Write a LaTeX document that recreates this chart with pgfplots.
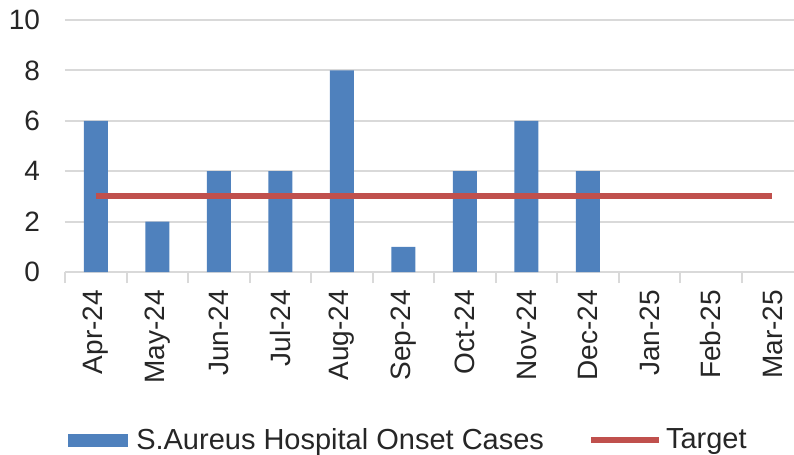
\documentclass[border=0pt]{standalone}
\usepackage{pgfplots}
\pgfplotsset{compat=1.18}
\usepackage{fontspec}
\setmainfont{Liberation Sans}
\definecolor{barblue}{HTML}{4F81BD}
\definecolor{tgtred}{HTML}{C0504D}
\definecolor{gridgray}{HTML}{D9D9D9}

\begin{document}
\begin{tikzpicture}[font=\fontsize{14}{17}\selectfont]
\path[use as bounding box] (-32.5pt,-91.5pt) rectangle (364.5pt,136pt);
\begin{axis}[
  at={(0,0)}, anchor=south west,
  scale only axis, width=364.5pt, height=126pt,
  xmin=-0.5, xmax=11.35, ymin=0, ymax=10,
  /pgf/number format/assume math mode=true,
  xtick={0,...,11},
  xticklabels={Apr-24,May-24,Jun-24,Jul-24,Aug-24,Sep-24,Oct-24,Nov-24,Dec-24,Jan-25,Feb-25,Mar-25},
  x tick label style={rotate=90, anchor=east, text=black!85},
  y tick label style={text=black!85},
  major tick length=0pt,
  xticklabel shift=5.5pt,
  yticklabel shift=9pt,
  minor xtick={-0.5,0.5,...,10.5},
  minor tick length=5.5pt,
  tick align=outside,
  minor x tick style={gridgray, line width=1pt},
  ytick={0,2,...,10},
  ymajorgrids, grid style={gridgray, line width=1pt},
  axis x line*=bottom, axis y line*=left,
  y axis line style={draw=none},
  x axis line style={gridgray, line width=1pt},
  legend columns=2,
  legend style={at={(rel axis cs:0.4725,-0.667)}, anchor=center, draw=none,
    fill=none, text=black!85, font=\fontsize{14.5}{17}\selectfont,
    /tikz/every even column/.append style={column sep=20pt}},
]
  % monthly cases
  \addplot[ybar, bar width=12pt, fill=barblue, draw=none,
    legend image code/.code={%
      \fill[barblue] (-1pt,-3.25pt) rectangle (29pt,3.25pt);
      \path (31pt,0pt);}]
    coordinates {(0,6) (1,2) (2,4) (3,4) (4,8) (5,1) (6,4) (7,6) (8,4)};
  \addlegendentry{S.Aureus Hospital Onset Cases}
  % target
  \addplot[tgtred, line width=3pt,
    legend image code/.code={%
      \path (2pt,0pt);
      \draw[tgtred,line width=3pt] (2pt,0pt) -- (36pt,0pt);}]
    coordinates {(0,3) (11,3)};
  \addlegendentry{Target}
\end{axis}
\end{tikzpicture}
\end{document}
